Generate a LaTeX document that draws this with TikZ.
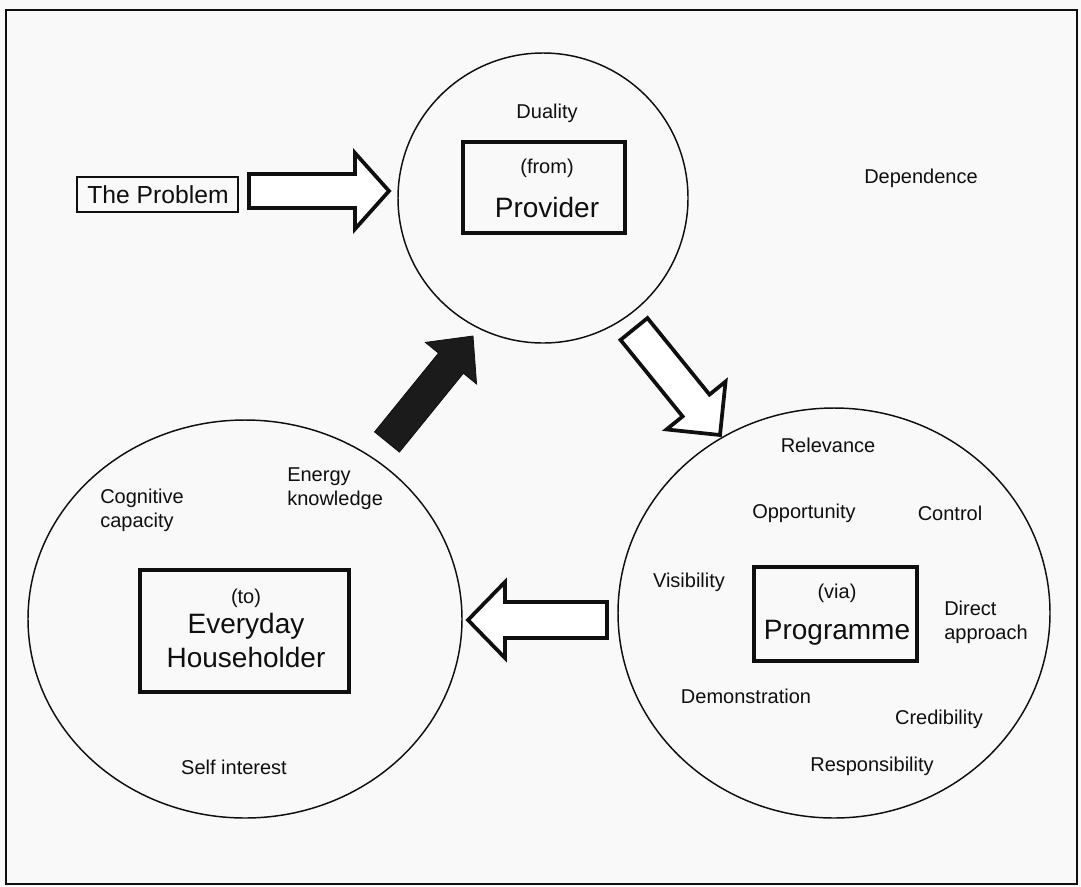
\documentclass[tikz,border=0pt]{standalone}
\usepackage{fontspec}
\setmainfont{Liberation Sans}
\usetikzlibrary{calc,shapes.geometric}

\definecolor{paper}{RGB}{249,249,249}
\definecolor{ink}{RGB}{15,15,15}

% Block arrow from tail #2 to tip #3: shaft half-width #4, head half-width #5, head length #6
\newcommand\blockarrow[6][]{%
  \coordinate (ba-h) at ($(#3)!#6!(#2)$);
  \path[#1] ($(#2)!#4!90:(#3)$) -- ($(ba-h)!#4!90:(#3)$) -- ($(ba-h)!#5!90:(#3)$)
    -- (#3) -- ($(ba-h)!#5!-90:(#3)$) -- ($(ba-h)!#4!-90:(#3)$)
    -- ($(#2)!#4!-90:(#3)$) -- cycle;
}

\tikzset{
  lbl/.style={font=\fontsize{15}{18}\selectfont, inner sep=0pt, text=ink},
  big/.style={font=\fontsize{21}{24}\selectfont, inner sep=0pt, text=ink},
  ring/.style={draw=ink, ellipse, line width=1.1pt, inner sep=0pt},
  framebox/.style={draw=ink, line width=2.4pt, inner sep=0pt},
  hollowarrow/.style={draw=ink, fill=white, line width=2.8pt, line join=miter},
  darkarrow/.style={fill=ink!95, draw=ink, line width=0.6pt, line join=miter},
}

\begin{document}
\begin{tikzpicture}[x=0.75pt, y=-0.75pt]
  \fill[paper] (0,0) rectangle (1081,886);
  \useasboundingbox (0,0) rectangle (1081,886);
  \draw[ink, line width=1.3pt] (6,10) rectangle (1077,884);

  % the three circles
  \node[ring, minimum width=217.5pt, minimum height=217.5pt] (prov) at (543,198) {};
  \node[ring, minimum width=324pt, minimum height=307.5pt] (prog) at (834,613) {};
  \node[ring, minimum width=325.5pt, minimum height=298.5pt] (hh) at (245,619) {};

  % the problem
  \node[draw=ink, line width=1.6pt, minimum width=120.75pt, minimum height=26.25pt,
        inner sep=0pt] (prob) at (157.5,194.5) {};
  \node[font=\fontsize{18.5}{20}\selectfont, inner sep=0pt, text=ink] (probtxt) at (158,195) {The Problem};

  % provider
  \node[framebox, minimum width=121.5pt, minimum height=68.25pt] (provbox) at (544,187.5) {};
  \node[lbl] (duality) at (547,113) {Duality};
  \node[lbl] (from) at (547,168) {(from)};
  \node[big] (provider) at (547,207) {Provider};
  \node[lbl] (dependence) at (921,178) {Dependence};

  % programme
  \node[framebox, minimum width=122.25pt, minimum height=70.5pt] (progbox) at (835.5,614) {};
  \node[lbl] (via) at (837,593) {(via)};
  \node[big] (programme) at (837,633) {Programme};
  \node[lbl] (relevance) at (828,445) {Relevance};
  \node[lbl] (opportunity) at (804,513) {Opportunity};
  \node[lbl] (control) at (950,513) {Control};
  \node[lbl] (visibility) at (689,582) {Visibility};
  \node[lbl, align=left, anchor=west] (direct) at (944,622) {Direct\\approach};
  \node[lbl] (demonstration) at (746,696) {Demonstration};
  \node[lbl] (credibility) at (939,719) {Credibility};
  \node[lbl] (responsibility) at (872,766) {Responsibility};

  % householder
  \node[framebox, minimum width=156.75pt, minimum height=91.5pt] (hhbox) at (244.5,631) {};
  \node[lbl] (to) at (246,598) {(to)};
  \node[big] (everyday) at (246,626) {Everyday};
  \node[big] (householder) at (246,657) {Householder};
  \node[lbl, align=left, anchor=west] (cognitive) at (100,510) {Cognitive\\capacity};
  \node[lbl, align=left, anchor=west] (energy) at (287,489) {Energy\\knowledge};
  \node[lbl] (selfinterest) at (234,767) {Self interest};

  % arrow ends
  \coordinate (a1) at (249,191);  \coordinate (b1) at (389,191);
  \coordinate (a2) at (634,329);  \coordinate (b2) at (720,435);
  \coordinate (a3) at (607,620);  \coordinate (b3) at (468,620);
  \coordinate (a4) at (387,442);  \coordinate (b4) at (473,336);

  \blockarrow[hollowarrow]{a1}{b1}{12.75pt}{28.5pt}{25.5pt}
  \blockarrow[hollowarrow]{a2}{b2}{13pt}{28.5pt}{28.5pt}
  \blockarrow[hollowarrow]{a3}{b3}{13.5pt}{28.5pt}{27.75pt}
  \blockarrow[darkarrow]{a4}{b4}{12pt}{24.75pt}{26.25pt}
\end{tikzpicture}
\end{document}
